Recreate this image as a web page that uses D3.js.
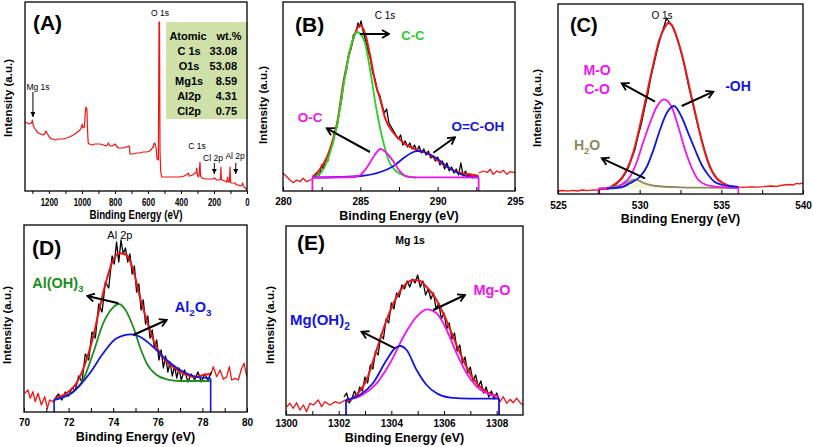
<!DOCTYPE html>
<html><head><meta charset="utf-8">
<script src="https://cdn.jsdelivr.net/npm/d3@7"></script>
<style>
body{margin:0;background:#fff}
svg{display:block}
text{font-family:"Liberation Sans",Arial,sans-serif}
.tl,.xl{font-weight:bold;fill:#000}
</style></head><body>
<svg id="c" width="813" height="447"></svg>
<script>
// ---------------- DATA (binding energy eV, intensity a.u.) ----------------
const surveyA = [[1345,69],[1320,67],[1305,68],[1300,71],[1296,66],[1288,63],[1275,60],[1265,58],[1250,57],[1234,56],[1222,58],[1218,60],[1212,58],[1198,54],[1185,52],[1174,52],[1160,51],[1145,52],[1133,52],[1115,52],[1093,53],[1075,54],[1053,56],[1035,58],[1012,61],[1003,64],[998,67],[994,63],[985,64],[980,78],[976,84],[970,82],[966,60],[962,48],[955,47],[941,46],[920,47],[900,47],[891,47],[870,46],[850,45],[840,48],[830,45],[815,45],[800,47],[790,45],[780,43],[765,43],[750,43],[735,44],[725,44],[719,45],[712,44],[709,37],[690,37],[670,38],[648,38],[630,39],[608,39],[590,40],[578,42],[568,44],[562,48],[556,47],[550,42],[545,32],[537,31],[533,169],[530,169],[527,40],[523,20],[517,14],[500,14],[487,14],[450,14],[406,14],[380,15],[360,17],[356,18],[350,15],[345,15],[330,16],[315,18],[308,18],[305,23],[301,17],[295,14],[290,16],[285,29],[281,15],[275,13],[250,12],[224,12],[205,12],[198,13],[190,12],[184,11],[170,11],[160,12],[158,24],[155,12],[150,11],[135,10],[123,9],[117,14],[113,9],[106,9],[103,24],[99,9],[95,8],[85,8],[73,8],[62,6],[50,6],[42,5],[30,6],[26,8],[22,5],[18,4],[10,3],[0,1]];
const tableHeader = ["Atomic","wt.%"];
const tableRows = [["C 1s","33.08"],["O1s","53.08"],["Mg1s","8.59"],["Al2p","4.31"],["Cl2p","0.75"]];

// Panel B: C 1s
const bRedLeft = [[280,17.7],[280.25,14.3],[280.45,11],[280.67,8.3],[280.88,11],[281.1,9.3],[281.3,12.7],[281.53,9.3],[281.75,11],[281.9,12]];
const bRedRight = [[292.65,18],[292.97,20],[293.2,18.5],[293.4,21.7],[293.6,16.7],[293.82,20],[294.04,18.3],[294.25,20.7],[294.47,16.7],[294.68,19.3],[295,18.3]];
const bRaw = [[282.0,13],[282.2,18],[282.35,16],[282.5,26],[282.6,22],[282.75,31],[282.9,30],[283.05,42],[283.2,46],[283.35,60],[283.5,64],[283.65,80],[283.8,92],[283.95,112],[284.1,120],[284.25,138],[284.4,142],[284.55,156],[284.7,158],[284.85,168],[284.95,164],[285.05,170],[285.2,158],[285.35,150],[285.5,140],[285.65,132],[285.8,118],[285.95,112],[286.1,100],[286.25,96],[286.4,86],[286.55,78],[286.7,82],[286.85,68],[287.0,64],[287.15,60],[287.3,56],[287.45,52],[287.6,56],[287.75,46],[287.9,50],[288.05,44],[288.2,48],[288.35,42],[288.5,46],[288.65,40],[288.8,45],[288.95,38],[289.1,42],[289.25,36],[289.4,40],[289.55,33],[289.7,35],[289.85,30],[290.0,34],[290.15,26],[290.3,30],[290.45,22],[290.6,28],[290.75,20],[290.9,24],[291.05,18],[291.2,22],[291.35,16],[291.5,28],[291.65,15],[291.8,20],[291.95,14],[292.1,17],[292.25,13],[292.4,16],[292.6,14]];
const bFit = [[281.9,14],[282.4,22],[282.85,34],[283.2,50],[283.5,68],[283.9,108],[284.35,141],[284.7,159],[284.96,166],[285.3,158],[285.65,134],[285.97,108],[286.3,91],[286.6,73],[287.15,58],[287.8,48],[288.66,41],[289.3,38],[289.96,31],[290.6,24],[291.5,18],[292.3,16],[292.65,15]];
const bCC = [[281.9,13],[282.5,19],[283.0,36],[283.5,66],[283.9,104],[284.33,141],[284.6,155],[284.8,159],[285.05,156],[285.3,148],[285.6,124],[286.05,81],[286.5,48],[286.9,28],[287.3,20],[287.6,17],[288.0,14.5],[288.6,13.5]];
const bOC = [[281.9,13.5],[284.6,14],[285.0,16],[285.4,23],[285.85,34],[286.3,42],[286.7,38],[287.13,29.7],[287.56,19.7],[288.0,14.7],[288.5,13.6],[292.65,13.5]];
const bOCOH = [[281.9,13.5],[283.5,14],[285.0,15],[286.3,19],[287.15,25],[287.8,33],[288.3,38],[288.66,40],[289.1,39],[289.57,36],[290.0,32],[290.4,27],[290.85,22],[291.25,18.5],[291.7,15.5],[292.1,14.2],[292.65,13.6]];
const bBaseEnds = [281.9, 292.65];

// Panel C: O 1s
const cRedLeft = [[525.0,3],[525.3,3.5],[525.6,2.8],[525.9,3.6],[526.2,3],[526.5,4],[526.8,3.4],[527.1,4.2],[527.4,3.8],[527.7,4.6],[528.0,4.7]];
const cRedRight = [[535.5,8],[535.9,7.2],[536.35,6.7],[536.8,7.2],[537.2,6.8],[537.6,7.3],[538.0,8],[538.4,7.6],[538.8,9],[539.2,9.5],[539.4,9],[539.6,10.7],[539.8,10.2],[540,11]];
const cRaw = [[528.3,7],[528.5,9],[528.7,12],[528.9,15],[529.1,20],[529.3,26],[529.5,35],[529.7,44],[529.9,58],[530.1,70],[530.3,86],[530.5,100],[530.7,118],[530.9,132],[531.1,146],[531.3,158],[531.5,168],[531.65,176],[531.8,172],[532.0,168],[532.2,160],[532.4,150],[532.6,138],[532.8,124],[533.0,108],[533.2,94],[533.4,80],[533.6,66],[533.8,54],[534.0,42],[534.2,32],[534.4,24],[534.6,18],[534.8,14],[535.0,12]];
const cFit = [[528.0,4.7],[528.4,9],[528.8,14],[529.2,24],[529.6,41],[530.0,67],[530.4,97],[530.8,127],[531.2,154],[531.55,167],[531.75,171],[531.96,169],[532.27,157],[532.67,134],[533.08,104],[533.5,74],[533.9,47],[534.3,27],[534.7,16],[535.1,11],[535.5,8]];
const cMO = [[527.47,5.6],[528.5,6],[529.0,10.7],[529.4,17],[529.8,31],[530.2,51],[530.63,71],[531.04,87],[531.5,94.7],[531.96,87],[532.37,67],[532.78,44],[533.2,25.7],[533.6,14],[534.1,9],[534.7,7.3],[535.5,6.5],[536.04,6.4]];
const cOH = [[528.0,5.7],[528.8,6.5],[529.4,10.7],[530.0,17],[530.43,27],[530.84,44],[531.24,64],[531.65,80.7],[532.1,88],[532.57,77],[532.98,60.7],[533.4,44],[533.8,29],[534.2,19],[534.6,12],[535.1,9],[535.9,7.3],[536.04,7]];
const cH2O = [[527.6,5.7],[528.2,6.5],[528.6,8],[529.2,11.3],[529.7,14.7],[530.3,10.7],[531.0,8],[532.5,6.7],[534.0,6.3],[536.0,6]];
const cBaseEnds = [527.47, 536.04];

// Panel D: Al 2p
const dRedLeft = [[70.03,18.7],[70.18,22],[70.28,13.7],[70.4,20.3],[70.5,10.3],[70.63,18.7],[70.78,7],[70.93,15.3],[71.05,3.7],[71.15,12],[71.3,10.3],[71.38,13.7]];
const dRedRight = [[78.34,38],[78.37,37],[78.49,45.3],[78.64,35.3],[78.79,42],[78.94,32.7],[79.09,35.3],[79.21,45.3],[79.31,32],[79.46,33.7],[79.61,32],[79.76,43.7],[79.87,48.7],[79.99,35.3]];
const dRaw = [[71.4,14],[71.55,18],[71.7,12],[71.85,20],[72.0,16],[72.15,24],[72.3,22],[72.45,36],[72.6,30],[72.75,58],[72.9,52],[73.05,80],[73.2,74],[73.35,108],[73.5,100],[73.65,130],[73.8,124],[73.95,156],[74.05,148],[74.15,170],[74.25,150],[74.35,172],[74.45,158],[74.55,164],[74.65,150],[74.75,158],[74.85,138],[74.95,146],[75.05,120],[75.15,128],[75.25,102],[75.35,112],[75.45,88],[75.55,96],[75.65,74],[75.75,82],[75.85,64],[75.95,72],[76.05,52],[76.15,62],[76.25,44],[76.35,56],[76.45,40],[76.55,50],[76.65,36],[76.75,46],[76.85,34],[76.95,44],[77.05,32],[77.2,42],[77.35,30],[77.5,38],[77.65,32],[77.8,40],[77.95,30],[78.1,38],[78.25,32],[78.4,40]];
const dFit = [[71.38,13.7],[71.9,18.7],[72.35,28.7],[72.8,52],[73.1,75],[73.4,105],[73.7,132],[74.0,152],[74.3,158.7],[74.6,157],[74.9,142],[75.2,115],[75.5,92],[75.8,72],[76.1,58.7],[76.4,50],[76.7,45],[77.0,40],[77.3,37],[77.74,35],[78.04,37],[78.34,38]];
const dAlOH3 = [[71.35,12],[71.9,16],[72.2,20],[72.65,32],[73.1,58.7],[73.55,88.7],[74.0,104.7],[74.25,108],[74.5,103.7],[74.9,85],[75.2,65],[75.5,48.7],[75.95,37],[76.4,32.7],[77.0,31],[78.37,31]];
const dAl2O3 = [[71.35,12],[72.2,20],[72.95,38.7],[73.55,58.7],[74.15,73.7],[74.8,77.7],[75.2,75.3],[75.8,65],[76.4,52],[77.0,42],[77.6,36],[78.26,33.7],[78.37,33.5]];
const dBaseEnds = [71.35, 78.37];

// Panel E: Mg 1s
const eRedLeft = [[1300.03,8.3],[1300.15,11.7],[1300.28,6.7],[1300.4,12.3],[1300.53,5],[1300.66,10],[1300.78,3.3],[1300.91,11.7],[1301.04,10],[1301.23,15],[1301.35,8.3],[1301.48,13.3],[1301.67,10],[1301.86,13.3],[1302.05,11.7],[1302.24,15],[1302.3,13.3]];
const eRedRight = [[1308.06,18.3],[1308.13,13.3],[1308.25,18.3],[1308.38,11.7],[1308.51,15.7],[1308.63,12.3],[1308.76,16.7],[1308.89,12.3],[1309.0,10]];
const eRaw = [[1302.2,18],[1302.3,22],[1302.4,12],[1302.5,16],[1302.6,24],[1302.7,18],[1302.8,28],[1302.9,24],[1303.0,38],[1303.1,32],[1303.2,50],[1303.3,46],[1303.4,64],[1303.5,60],[1303.6,80],[1303.7,76],[1303.8,96],[1303.9,92],[1304.0,112],[1304.1,106],[1304.2,122],[1304.3,118],[1304.4,130],[1304.5,126],[1304.6,134],[1304.7,128],[1304.8,136],[1304.9,132],[1305.0,140],[1305.1,128],[1305.2,134],[1305.3,120],[1305.4,126],[1305.5,116],[1305.6,122],[1305.7,106],[1305.8,112],[1305.9,96],[1306.0,102],[1306.1,86],[1306.2,92],[1306.3,76],[1306.4,82],[1306.5,64],[1306.6,70],[1306.7,52],[1306.8,58],[1306.9,42],[1307.0,48],[1307.1,34],[1307.2,40],[1307.3,28],[1307.4,34],[1307.5,22],[1307.6,28],[1307.7,18],[1307.8,24],[1307.9,16],[1308.0,22],[1308.1,14]];
const eFit = [[1302.3,13.3],[1302.68,20],[1303.06,35],[1303.44,65],[1303.82,95],[1304.2,118],[1304.58,131.7],[1304.84,135],[1305.09,134],[1305.34,128],[1305.6,120],[1305.97,101.7],[1306.35,78],[1306.73,55],[1307.1,36.7],[1307.5,25],[1307.87,20],[1308.06,18.3]];
const eMgO = [[1302.28,15],[1302.9,20],[1303.44,31.7],[1303.95,51.7],[1304.46,78.3],[1304.96,98.3],[1305.34,105.7],[1305.72,101.7],[1306.1,85],[1306.48,61.7],[1306.86,41.7],[1307.24,28.3],[1307.62,21.7],[1308.09,18.3]];
const eMgOH2 = [[1302.28,15],[1302.8,20],[1303.3,31.7],[1303.82,55],[1304.14,66.7],[1304.33,69],[1304.58,65],[1304.96,45],[1305.34,30],[1305.72,21.7],[1306.23,17.3],[1307.0,16.3],[1308.09,16.3]];
const eBaseEnds = [1302.28, 1308.09];

// tick values
const ticksA = [1200,1000,800,600,400,200,0];
const ticksB = [280,285,290,295];
const ticksC = [525,530,535,540];
const ticksD = [70,72,74,76,78,80];
const ticksE = [1300,1302,1304,1306,1308];

// ---------------- DRAW ----------------
const RED="#f01414", GREEN="#25d425", DGREEN="#1e8e1e", MAG="#f014f0", BLUE="#1414e0", OLIVE="#8c8a5c";
const svg=d3.select('#c');
const defs=svg.append('defs');
defs.append('marker').attr('id','chev').attr('viewBox','0 0 10 10').attr('refX',8.5).attr('refY',5)
 .attr('markerWidth',10).attr('markerHeight',10).attr('markerUnits','userSpaceOnUse').attr('orient','auto')
 .append('path').attr('d','M1.5,1 L8.5,5 L1.5,9').attr('fill','none').attr('stroke','#000').attr('stroke-width',1.8);
defs.append('marker').attr('id','tri').attr('viewBox','0 0 10 10').attr('refX',10).attr('refY',5)
 .attr('markerWidth',5).attr('markerHeight',5).attr('markerUnits','userSpaceOnUse').attr('orient','auto')
 .append('path').attr('d','M0,0 L10,5 L0,10 Z').attr('fill','#000');

function squeeze(sel,f){ if(f===1) return; sel.each(function(){ const L=this.getComputedTextLength(); d3.select(this).attr('textLength',L*f).attr('lengthAdjust','spacingAndGlyphs'); }); }

let cid=0;
function makePanel(p){
  const x=d3.scaleLinear().domain(p.xd).range([p.x0,p.x1]);
  const y=d3.scaleLinear().domain([0,p.y1-p.y0]).range([p.y1,p.y0]);
  const g=svg.append('g');
  const id='clip'+(cid++);
  defs.append('clipPath').attr('id',id).append('rect').attr('x',p.x0).attr('y',p.y0).attr('width',p.x1-p.x0).attr('height',p.y1-p.y0);
  const plot=g.append('g').attr('clip-path',`url(#${id})`);
  const gAnn=g.append('g');
  const sq=p.squeeze||1;
  const ts = p.out?3:-4;
  const ga=g.append('g').attr('transform',`translate(0,${p.y1})`)
    .call(d3.axisBottom(x).tickValues(p.major).tickSize(ts).tickFormat(d=>d));
  ga.attr('font-family',null).attr('font-size',null);
  ga.select('.domain').remove();
  ga.selectAll('.tick line').attr('stroke','#000').attr('stroke-width',1);
  const tt=ga.selectAll('.tick text').attr('class','tl').attr('y',p.labY-p.y1).attr('dy','0.35em').style('font-size','10px');
  squeeze(tt,sq);
  const gm=g.append('g').attr('transform',`translate(0,${p.y1})`)
    .call(d3.axisBottom(x).tickValues(p.minor).tickSize(ts).tickFormat(''));
  gm.select('.domain').remove();
  gm.selectAll('.tick line').attr('stroke','#000').attr('stroke-width',1);
  g.append('rect').attr('x',p.x0).attr('y',p.y0).attr('width',p.x1-p.x0).attr('height',p.y1-p.y0)
   .attr('fill','none').attr('stroke','#000').attr('stroke-width',1.3);
  const xl=g.append('text').attr('class','xl').attr('x',(p.x0+p.x1)/2).attr('y',p.xlabY).attr('dy','0.35em')
   .attr('text-anchor','middle').style('font-size','12.5px').text('Binding Energy (eV)');
  squeeze(xl,sq);
  g.append('text').attr('transform',`translate(${p.ylabX},${p.ylabY}) rotate(-90)`).attr('text-anchor','middle')
   .attr('dy','0.35em').style('font-size','11.5px').style('font-weight','bold').text('Intensity (a.u.)');
  return {x,y,plot,ann:gAnn};
}
function line(P,data,color,w,smooth){
  P.plot.append('path').datum(data).attr('fill','none').attr('stroke',color).attr('stroke-width',w)
   .attr('stroke-linejoin','round')
   .attr('d',d3.line().x(d=>P.x(d[0])).y(d=>P.y(d[1])).curve(smooth?d3.curveMonotoneX:d3.curveLinear));
}
function ends(P,be,v0,color,w){
  be.forEach((b,i)=>{
    P.plot.append('line').attr('x1',P.x(b)).attr('x2',P.x(b)).attr('y1',P.y(0)).attr('y2',P.y(v0[i]))
     .attr('stroke',color).attr('stroke-width',w);
  });
}
function label(P,be,v,txt,color,size,weight,anchor){
  const t=P.ann.append('text').attr('x',P.x(be)).attr('y',P.y(v)).attr('dy','0.35em')
   .attr('text-anchor',anchor||'middle').style('font-size',size+'px').style('font-weight',weight||'bold').attr('fill',color);
  const parts=txt.split(/(_\d)/);
  let sub=false;
  parts.forEach(s=>{
    if(!s) return;
    if(s[0]==='_'){ t.append('tspan').attr('dy',size*0.3).style('font-size',(size*0.68)+'px').text(s.slice(1)); sub=true; }
    else { const ts=t.append('tspan').text(s); if(sub){ts.attr('dy',-size*0.3); sub=false;} }
  });
  return t;
}
function arrow(P,a,b,marker,w){
  P.ann.append('line').attr('x1',P.x(a[0])).attr('y1',P.y(a[1])).attr('x2',P.x(b[0])).attr('y2',P.y(b[1]))
   .attr('stroke','#000').attr('stroke-width',w||2).attr('marker-end',`url(#${marker||'chev'})`);
}

// Panel A
const A=makePanel({x0:25,x1:247,y0:2,y1:191,xd:[1345,0],major:ticksA,minor:[1300,1100,900,700,500,300,100],out:true,labY:202,xlabY:215,ylabX:8,ylabY:98,squeeze:0.78});
line(A,surveyA,RED,1.2,false);
const tb=A.ann.append('g');
tb.append('rect').attr('x',A.x(490)).attr('y',A.y(169)).attr('width',A.x(-6)-A.x(490)).attr('height',A.y(72)-A.y(169)).attr('fill','#cfe0a9');
const rowV=[155,140,125,110,95,80];
label(A,357,rowV[0],tableHeader[0],'#000',11);
label(A,109,rowV[0],tableHeader[1],'#000',11);
tableRows.forEach((r,i)=>{
  label(A,351,rowV[i+1],r[0],'#000',11);
  label(A,60,rowV[i+1],r[1],'#000',11,'bold','end');
});
label(A,1297,168,'(A)','#000',21,'bold','start');
label(A,527,178,'O 1s','#000',8.5,'normal');
label(A,1266,104,'Mg 1s','#000',8.5,'normal');
arrow(A,[1297,99],[1297,74],'tri',1);
label(A,303,45,'C 1s','#000',8.5,'normal');
label(A,206,33,'Cl 2p','#000',8.5,'normal');
arrow(A,[198,28],[198,17],'tri',1);
label(A,72,35,'Al 2p','#000',8.5,'normal');
arrow(A,[68,28],[68,17],'tri',1);

// Panel B
const B=makePanel({x0:283,x1:515,y0:2,y1:191,xd:[280,295],major:ticksB,minor:[282.5,287.5,292.5],labY:201,xlabY:216,ylabX:263,ylabY:105});
line(B,bRedLeft,RED,1.3,false);
line(B,bRedRight,RED,1.3,false);
line(B,bRaw,'#000',1.3,false);
line(B,bFit,RED,2,true);
line(B,bCC,GREEN,1.8,true);
line(B,bOCOH,BLUE,1.8,true);
line(B,bOC,MAG,1.8,true);
ends(B,bBaseEnds,[13.5,13.5],MAG,1.8);
label(B,280.78,166,'(B)','#000',21,'bold','start');
label(B,286.6,176,'C 1s','#000',10,'normal');
arrow(B,[284.98,157],[286.85,157]);
label(B,288.4,156,'C-C','#2bcc2b',13);
label(B,281.75,74,'O-C',MAG,13.5);
arrow(B,[285.62,39],[282.83,62.7]);
label(B,292.6,65,'O=C-OH',BLUE,13.5);
arrow(B,[289.72,38.3],[291.12,53.7]);

// Panel C
const C=makePanel({x0:558,x1:803,y0:4,y1:194,xd:[525,540],major:ticksC,minor:[527.5,532.5,537.5],labY:205,xlabY:219,ylabX:537,ylabY:108});
C.plot.append('path').datum(cH2O).attr('fill','#eeeec0').attr('opacity',0.6)
 .attr('d',d3.area().x(d=>C.x(d[0])).y0(C.y(5.7)).y1(d=>C.y(d[1])).curve(d3.curveMonotoneX));
line(C,cRedLeft,RED,1.3,false);
line(C,cRedRight,RED,1.3,false);
line(C,cRaw,'#000',1.3,false);
line(C,cFit,RED,2,true);
line(C,cH2O,OLIVE,1.8,true);
line(C,cMO,MAG,1.8,true);
line(C,cOH,BLUE,1.8,true);
ends(C,cBaseEnds,[5.6,6.4],MAG,1.6);
label(C,525.73,169,'(C)','#000',20,'bold','start');
label(C,531.37,179,'O 1s','#000',10,'normal');
label(C,527.39,124,'M-O',MAG,14);
label(C,527.39,105,'C-O',MAG,14);
arrow(C,[530.94,92.3],[528.9,110.7]);
label(C,536.02,108,'-OH',BLUE,14);
arrow(C,[532.57,88],[534.51,102.3]);
label(C,526.78,49,'H_2O',OLIVE,14);
arrow(C,[530.33,15.7],[527.68,35.7]);

// Panel D
const D=makePanel({x0:24,x1:247,y0:225,y1:412,xd:[70,80],major:ticksD,minor:[71,73,75,77,79],labY:422,xlabY:437,ylabX:7,ylabY:325});
line(D,dRedLeft,RED,1.3,false);
line(D,dRedRight,RED,1.3,false);
line(D,dRaw,'#000',1.3,false);
line(D,dFit,RED,2,true);
line(D,dAlOH3,DGREEN,1.8,true);
line(D,dAl2O3,BLUE,1.8,true);
ends(D,dBaseEnds,[12,33.5],BLUE,1.6);
label(D,70.36,164,'(D)','#000',21,'bold','start');
label(D,74.3,177,'Al 2p','#000',11,'normal');
label(D,71.52,129,'Al(OH)_3',DGREEN,14.5);
arrow(D,[74.23,108.7],[72.84,116]);
label(D,77.58,105,'Al_2O_3',BLUE,14.5);
arrow(D,[74.9,77],[76.4,92]);

// Panel E
const E=makePanel({x0:286,x1:523,y0:226,y1:415,xd:[1300,1309],major:ticksE,minor:[1301,1303,1305,1307],labY:423,xlabY:438,ylabX:270,ylabY:325});
line(E,eRedLeft,RED,1.3,false);
line(E,eRedRight,RED,1.3,false);
line(E,eRaw,'#000',1.3,false);
line(E,eFit,RED,2,true);
line(E,eMgO,MAG,1.8,true);
line(E,eMgOH2,BLUE,1.8,true);
ends(E,eBaseEnds,[15,16.3],BLUE,1.8);
label(E,1300.42,172,'(E)','#000',21,'bold','start');
label(E,1304.71,175,'Mg 1s','#000',10.5,'bold');
label(E,1307.82,125,'Mg-O',MAG,14.5);
arrow(E,[1305.59,105],[1306.8,120]);
label(E,1301.29,95,'Mg(OH)_2',BLUE,15);
arrow(E,[1304.14,66.7],[1302.87,83.3]);
</script>
</body></html>
